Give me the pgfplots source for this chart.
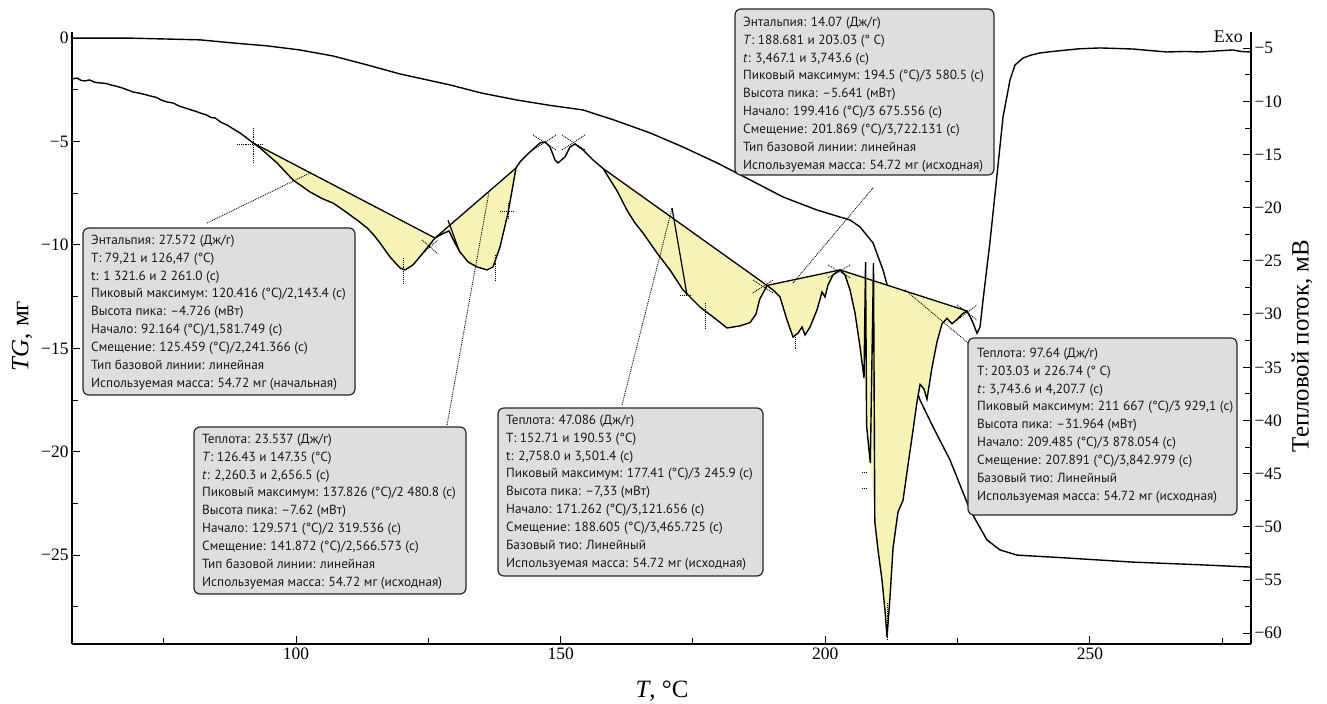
\documentclass[border=0pt]{standalone}
\usepackage{fontspec}
\setmainfont{Liberation Serif}
\newfontfamily\boxfont{PT Sans}
\usepackage{pgfplots}
\pgfplotsset{compat=1.18}
\definecolor{peak}{RGB}{245,243,182}
\definecolor{boxgray}{RGB}{221,222,224}
\newcommand{\seg}[4]{\addplot[black, densely dotted, line width=0.9bp] coordinates {(#1,#2) (#3,#4)};}
\newcommand{\bl}[1]{\hbox{#1}}
\newcommand{\infobox}[7]{%
  \draw[fill=boxgray, draw=black!85, line width=1.2bp, rounded corners=6bp] (#1,#2) rectangle (#3,#4);
  \node[anchor=base west, inner sep=0pt, text=black!90, font=\boxfont\fontsize{13.3}{17.9}\selectfont] at (#5,#6) {\vtop{#7}};}
\begin{document}
\begin{tikzpicture}
\path[use as bounding box] (0,0) rectangle (1327bp,704bp);
% ---------- TG axis (left)
\begin{axis}[at={(72bp,60bp)}, anchor=south west, scale only axis,
  width=1179bp, height=612bp,
  xmin=57.68, xmax=280.42, ymin=-29.30, ymax=0.30,
  axis x line*=bottom, axis y line*=left, axis line style={-, line width=1.2bp},
  tick align=inside, major tick length=8bp, minor tick length=6bp,
  tick style={black, line width=1bp},
  xtick={100,150,200,250}, xticklabels={100,150,200,250},
  minor xtick={75,125,175,225,275},
  ytick={0,-5,-10,-15,-20,-25}, yticklabels={0,−5,−10,−15,−20,−25},
  minor ytick={-2.5,-7.5,-12.5,-17.5,-22.5,-27.5},
  ticklabel style={font=\fontsize{17.5}{20}\selectfont},
  /pgf/number format/assume math mode=true]
\addplot[black, line width=1.4bp] coordinates {
(57.68,0) (69.20,0) (81.86,-0.08) (88.10,-0.23) (94.52,-0.37) (100.76,-0.57)
(106.99,-0.86) (113.41,-1.29) (119.65,-1.73) (129.10,-2.26) (135,-2.65)
(141.75,-2.99) (148,-3.25) (154.22,-3.47) (160,-3.95) (166.88,-4.58) (173,-5.25)
(179.54,-6.03) (185.77,-6.85) (192.01,-7.68) (198.43,-8.31) (202.78,-8.65)
(204.67,-8.79) (206.56,-9.13) (209.01,-9.90) (210.90,-11.21) (212.22,-12.43)
(214.11,-14.35) (216.0,-16.15) (217.89,-17.5) (220.35,-18.80) (223.56,-20.40)
(227.34,-22.82) (230.55,-24.27) (233.0,-24.75) (236.22,-25.00) (245.66,-25.14)
(258.13,-25.34) (270,-25.46) (280.24,-25.58)};
\end{axis}
% ---------- DSC axis (right)
\begin{axis}[at={(72bp,60bp)}, anchor=south west, scale only axis,
  width=1179bp, height=612bp,
  xmin=57.68, xmax=280.42, ymin=-61.01, ymax=-3.47,
  axis x line=none, axis y line*=right, axis line style={-, line width=1.2bp},
  tick align=inside, major tick length=8bp, minor tick length=6bp,
  tick style={black, line width=1bp},
  ytick={-5,-10,-15,-20,-25,-30,-35,-40,-45,-50,-55,-60},
  yticklabels={−5,−10,−15,−20,−25,−30,−35,−40,−45,−50,−55,−60},
  minor ytick={-7.5,-12.5,-17.5,-22.5,-27.5,-32.5,-37.5,-42.5,-47.5,-52.5,-57.5},
  ticklabel style={font=\fontsize{17.5}{20}\selectfont}]
% fills
\addplot[fill=peak, draw=none] coordinates {
(91.88,-13.90) (93.20,-14.37) (96.41,-15.78) (99.43,-17.38) (102.65,-18.51) (105.0,-19.15)
(106.99,-19.55) (108.6,-20.1) (110.20,-20.67) (111.8,-21.25) (113.41,-21.89) (114.6,-22.5)
(115.87,-23.31) (117.76,-24.62) (119.65,-25.66) (120.59,-25.84) (122.10,-25.37)
(123.99,-24.25) (126.26,-22.84)} -- cycle;
\addplot[fill=peak, draw=none] coordinates {
(126.26,-22.84) (127.58,-22.46) (128.91,-22.18) (130.04,-23.31) (130.98,-24.15)
(132.50,-25.09) (134.20,-25.56) (136.09,-25.84) (137.22,-25.56) (138.54,-23.68)
(140.05,-20.49) (141.00,-17.85) (141.56,-16.26)} -- cycle;
\addplot[fill=peak, draw=none] coordinates {
(158.00,-16.30) (160.65,-18.40) (162.5,-20.2) (164.0,-21.4) (165.56,-22.37) (168.20,-24.25)
(170.66,-25.85) (173.12,-27.73) (176.33,-29.33) (179.54,-30.55) (181.43,-31.30)
(183.89,-31.10) (185.77,-30.8) (186.9,-30.0) (187.6,-28.6) (188.99,-27.30)} -- cycle;
\addplot[fill=peak, draw=none] coordinates {
(188.99,-27.30) (190.12,-27.73) (191.44,-28.38) (192.76,-30.55) (193.90,-32.15)
(194.84,-31.78) (195.60,-31.21) (196.17,-31.96) (197.11,-31.21) (198.43,-29.60)
(199.38,-27.91) (199.94,-28.38) (200.51,-27.25) (201.46,-26.31) (202.78,-25.84)} -- cycle;
\addplot[fill=peak, draw=none] coordinates {
(202.78,-25.84) (203.72,-26.31) (204.67,-27.73) (205.61,-29.89) (206.56,-33.09)
(207.31,-36.0) (208.5,-44.0) (209.96,-52.2) (210.71,-55.0) (211.3,-58.0)
(211.66,-60.35) (212.22,-56.6) (212.79,-52.0) (213.73,-48.6) (214.68,-47.5) (215.5,-44.6)
(216.4,-41.5) (217.3,-38.3) (217.9,-36.6) (218.6,-37.0) (219.2,-38.0) (220.16,-35.0)
(221.10,-32.6) (222.05,-30.9) (222.99,-30.4) (223.94,-30.9) (224.88,-30.5)
(225.83,-30.0) (226.77,-29.70)} -- cycle;
% baselines and tangents
\addplot[black, line width=1.3bp] coordinates {(91.88,-13.90) (126.26,-22.84) (141.56,-16.26)};
\addplot[black, line width=1.3bp] coordinates {(158.00,-16.30) (188.99,-27.30) (202.78,-25.84) (226.77,-29.70)};
\addplot[black, line width=1.2bp] coordinates {(128.72,-21.16) (130.98,-24.25)};
\addplot[black, line width=1.2bp] coordinates {(171.04,-20.03) (173.87,-28.2)};
% leader lines
\seg{83.19}{-21.43}{102.64}{-16.72}
\seg{128.53}{-40.42}{136.46}{-18.51}
\seg{161.59}{-38.53}{171.04}{-20.03}
\seg{193.90}{-27.07}{209.01}{-18.13}
\seg{215.06}{-27.72}{226.96}{-32.70}
% crosshairs
\seg{91.88}{-12.49}{91.88}{-15.78}
\seg{88.85}{-14.09}{93.77}{-14.09}
\seg{120.22}{-24.72}{120.22}{-27.07}
\seg{123.80}{-23.02}{126.83}{-24.34}
\seg{123.80}{-24.34}{126.83}{-23.02}
\seg{137.60}{-24.43}{137.60}{-26.78}
\seg{138.54}{-20.30}{141.38}{-20.30}
\seg{140.05}{-19.55}{140.05}{-21.14}
\seg{144.78}{-13.15}{149.12}{-14.56}
\seg{144.78}{-14.56}{149.12}{-13.15}
\seg{150.25}{-13.15}{154.60}{-14.56}
\seg{150.25}{-14.56}{154.60}{-13.15}
\seg{177.27}{-28.95}{177.27}{-31.30}
\seg{172.55}{-28.20}{174.44}{-28.20}
\seg{186.34}{-26.79}{190.12}{-28.01}
\seg{186.34}{-28.01}{190.12}{-26.79}
\seg{194.28}{-32.15}{194.28}{-33.37}
\seg{200.51}{-25.37}{204.67}{-26.59}
\seg{200.51}{-26.59}{204.67}{-25.37}
\seg{211.66}{-57.17}{211.66}{-60.65}
\seg{206.93}{-44.84}{207.88}{-44.84}
\seg{206.93}{-46.34}{207.88}{-46.34}
\seg{224.88}{-29.13}{228.66}{-30.55}
\seg{224.88}{-30.55}{228.66}{-29.13}
% DSC curve
\addplot[black, line width=1.4bp] coordinates {
(57.68,-7.89) (58.6,-7.80) (59.4,-8.02) (60.14,-8.07) (61.0,-7.98) (62.0,-8.20) (62.97,-8.26)
(64.0,-8.30) (65.0,-8.45) (65.80,-8.54) (67.0,-8.70) (68.2,-8.92) (69.20,-9.11) (70.4,-9.22)
(71.5,-9.35) (72.42,-9.48) (73.6,-9.62) (74.6,-9.88) (75.63,-10.05) (76.8,-10.15) (78.0,-10.45)
(79.03,-10.61) (80.2,-10.80) (81.0,-10.92) (81.86,-11.08) (83.0,-11.25) (84.0,-11.52)
(84.70,-11.55) (85.8,-11.95) (86.96,-12.21) (88.2,-12.60) (89.42,-12.96) (90.6,-13.40)
(91.88,-13.90) (93.20,-14.37) (96.41,-15.78) (99.43,-17.38) (102.65,-18.51) (105.0,-19.15)
(106.99,-19.55) (108.6,-20.1) (110.20,-20.67) (111.8,-21.25) (113.41,-21.89) (114.6,-22.5)
(115.87,-23.31) (117.76,-24.62) (119.65,-25.66) (120.59,-25.84) (122.10,-25.37)
(123.99,-24.25) (126.26,-22.84) (127.58,-22.46) (128.91,-22.18) (130.04,-23.31)
(130.98,-24.15) (132.50,-25.09) (134.20,-25.56) (136.09,-25.84) (137.22,-25.56)
(138.54,-23.68) (140.05,-20.49) (141.00,-17.85) (141.56,-16.26) (142.32,-15.69)
(144.21,-14.75) (146.10,-13.90) (147.04,-13.81) (147.99,-14.28) (148.93,-15.50)
(149.50,-15.78) (150.82,-15.22) (151.77,-14.28) (152.71,-14.00) (154.22,-14.56)
(156.11,-15.50) (158.00,-16.30) (160.65,-18.40) (162.5,-20.2) (164.0,-21.4) (165.56,-22.37)
(168.20,-24.25) (170.66,-25.85) (173.12,-27.73) (176.33,-29.33) (179.54,-30.55)
(181.43,-31.30) (183.89,-31.10) (185.77,-30.8) (186.9,-30.0) (187.6,-28.6) (188.99,-27.30)
(190.12,-27.73) (191.44,-28.38) (192.76,-30.55) (193.90,-32.15) (194.84,-31.78)
(195.60,-31.21) (196.17,-31.96) (197.11,-31.21) (198.43,-29.60) (199.38,-27.91)
(199.94,-28.38) (200.51,-27.25) (201.46,-26.31) (202.78,-25.84) (203.72,-26.31)
(204.67,-27.73) (205.61,-29.89) (206.56,-33.09) (207.31,-36.0) (207.6,-25.1) (207.8,-40.5)
(208.5,-44.0) (209.1,-25.2) (209.35,-49.5) (209.96,-52.2) (210.71,-55.0) (211.3,-58.0)
(211.66,-60.35) (212.22,-56.6) (212.79,-52.0) (213.73,-48.6) (214.68,-47.5) (215.5,-44.6)
(216.4,-41.5) (217.3,-38.3) (217.9,-36.6) (218.6,-37.0) (219.2,-38.0) (220.16,-35.0)
(221.10,-32.6) (222.05,-30.9) (222.99,-30.4) (223.94,-30.9) (224.88,-30.5)
(225.83,-30.0) (226.77,-29.70) (227.72,-30.6) (228.66,-31.8) (229.23,-31.2) (229.79,-28.7)
(231.11,-23.2) (232.44,-16.9) (233.57,-11.46) (234.89,-7.98) (235.84,-6.57) (237.35,-5.92)
(238.8,-5.65) (240.56,-5.44) (243,-5.30) (245.66,-5.16) (248,-5.05) (251.90,-4.97)
(255,-5.02) (258.13,-5.07) (261,-5.20) (264.56,-5.35) (268,-5.30) (270.79,-5.35)
(274,-5.25) (277.03,-5.16) (278.5,-5.30) (280.24,-5.35)};
\end{axis}
% ---------- labels
\node[rotate=90, font=\fontsize{25}{30}\selectfont] at (22bp,368bp) {\textit{TG}, мг};
\node[rotate=90, font=\fontsize{25}{30}\selectfont] at (1302bp,358bp) {Тепловой поток, мВ};
\node[font=\fontsize{25}{30}\selectfont] at (662bp,13bp) {\textit{T}, °C};
\node[anchor=base east, inner sep=0pt, font=\fontsize{18}{20}\selectfont] at (1243bp,661bp) {Exo};
% ---------- info boxes
\begin{scope}[x=1bp, y=1bp]
\infobox{83}{476}{355}{309}{91}{459.5}{%
\bl{Энтальпия: 27.572 (Дж/г)}\bl{T: 79,21 и 126,47 (°C)}\bl{t: 1 321.6 и 2 261.0 (с)}%
\bl{Пиковый максимум: 120.416 (°C)/2,143.4 (с)}\bl{Высота пика: –4.726 (мВт)}%
\bl{Начало: 92.164 (°C)/1,581.749 (с)}\bl{Смещение: 125.459 (°C)/2,241.366 (с)}%
\bl{Тип базовой линии: линейная}\bl{Используемая масса: 54.72 мг (начальная)}}
\infobox{194}{277}{466}{110}{202}{260.5}{%
\bl{Теплота: 23.537 (Дж/г)}\bl{\textit{T}: 126.43 и 147.35 (°C)}\bl{\textit{t}: 2,260.3 и 2,656.5 (с)}%
\bl{Пиковый максимум: 137.826 (°C)/2 480.8 (с)}\bl{Высота пика: –7.62 (мВт)}%
\bl{Начало: 129.571 (°C)/2 319.536 (с)}\bl{Смещение: 141.872 (°C)/2,566.573 (с)}%
\bl{Тип базовой линии: линейная}\bl{Используемая масса: 54.72 мг (исходная)}}
\infobox{498}{296}{763}{128}{506}{279.5}{%
\bl{Теплота: 47.086 (Дж/г)}\bl{T: 152.71 и 190.53 (°C)}\bl{t: 2,758.0 и 3,501.4 (с)}%
\bl{Пиковый максимум: 177.41 (°C)/3 245.9 (с)}\bl{Высота пика: –7,33 (мВт)}%
\bl{Начало: 171.262 (°C)/3,121.656 (с)}\bl{Смещение: 188.605 (°C)/3,465.725 (с)}%
\bl{Базовый тио: Линейный}\bl{Используемая масса: 54.72 мг (исходная)}}
\infobox{735}{695}{994}{529}{743}{677.5}{%
\bl{Энтальпия: 14.07 (Дж/г)}\bl{\textit{T}: 188.681 и 203.03 (° C)}\bl{\textit{t}: 3,467.1 и 3,743.6 (с)}%
\bl{Пиковый максимум: 194.5 (°C)/3 580.5 (с)}\bl{Высота пика: –5.641 (мВт)}%
\bl{Начало: 199.416 (°C)/3 675.556 (с)}\bl{Смещение: 201.869 (°C)/3,722.131 (с)}%
\bl{Тип базовой линии: линейная}\bl{Используемая масса: 54.72 мг (исходная)}}
\infobox{968}{366}{1237}{189}{977}{346.5}{%
\bl{Теплота: 97.64 (Дж/г)}\bl{T: 203.03 и 226.74 (° C)}\bl{\textit{t}: 3,743.6 и 4,207.7 (с)}%
\bl{Пиковый максимум: 211 667 (°C)/3 929,1 (с)}\bl{Высота пика: –31.964 (мВт)}%
\bl{Начало: 209.485 (°C)/3 878.054 (с)}\bl{Смещение: 207.891 (°C)/3,842.979 (с)}%
\bl{Базовый тио: Линейный}\bl{Используемая масса: 54.72 мг (исходная)}}
\end{scope}
\end{tikzpicture}
\end{document}
